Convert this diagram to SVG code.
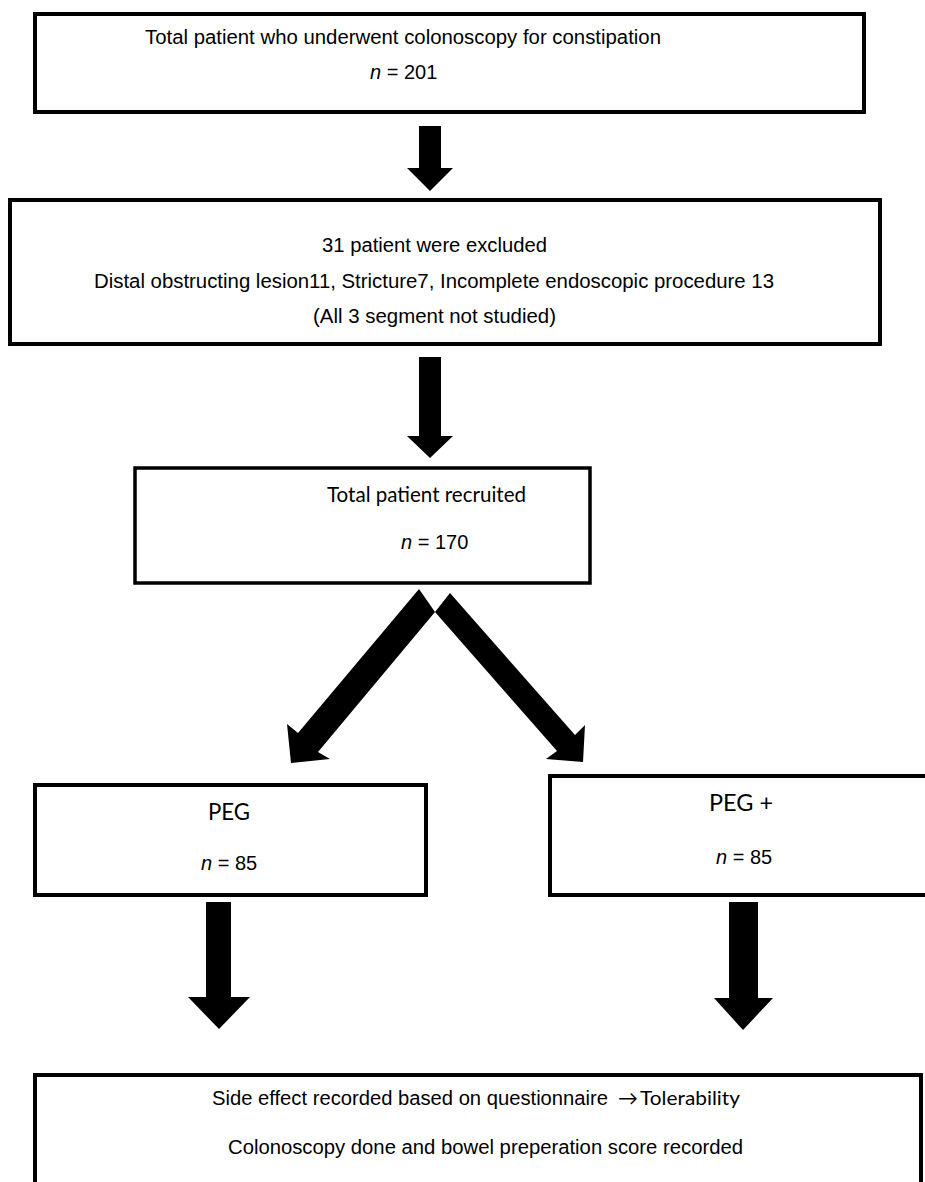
<svg xmlns="http://www.w3.org/2000/svg" width="925" height="1182" viewBox="0 0 925 1182">
<style>
.box{fill:#fff;stroke:#000;stroke-width:4}
.ar{font-family:"Liberation Sans",Arial,sans-serif;font-size:20px;fill:#000}
.cb{font-family:Lato,"Open Sans",sans-serif;fill:#000}
.it{font-style:italic}
.arrow{fill:#000;stroke:none}
</style>
<rect width="925" height="1182" fill="#fff"/>
<g id="node-total">
<rect class="box" x="35" y="14" width="829" height="98"/>
<text class="ar" x="145" y="44" textLength="516" lengthAdjust="spacingAndGlyphs">Total patient who underwent colonoscopy for constipation</text>
<text class="ar" x="370" y="79"><tspan class="it">n</tspan> = 201</text>
</g>
<g id="node-excluded">
<rect class="box" x="10" y="200" width="870" height="144"/>
<text class="ar" x="322" y="252" textLength="225" lengthAdjust="spacingAndGlyphs">31 patient were excluded</text>
<text class="ar" x="94" y="288" textLength="680" lengthAdjust="spacingAndGlyphs">Distal obstructing lesion11, Stricture7, Incomplete endoscopic procedure 13</text>
<text class="ar" x="313" y="323" textLength="243" lengthAdjust="spacingAndGlyphs">(All 3 segment not studied)</text>
</g>
<g id="node-recruited">
<rect class="box" x="135" y="468" width="455" height="115" style="stroke-width:3.5"/>
<text class="cb" x="327" y="502" font-size="21" textLength="199" lengthAdjust="spacingAndGlyphs">Total patient recruited</text>
<text class="ar" x="401" y="549"><tspan class="it">n</tspan> = 170</text>
</g>
<g id="node-peg">
<rect class="box" x="35" y="785" width="391" height="110"/>
<text class="cb" x="208" y="820" font-size="24" textLength="42" lengthAdjust="spacingAndGlyphs">PEG</text>
<text class="ar" x="201" y="870"><tspan class="it">n</tspan> = 85</text>
</g>
<g id="node-pegplus">
<rect class="box" x="550" y="776" width="380" height="119"/>
<text class="cb" x="709" y="811" font-size="24" textLength="64" lengthAdjust="spacingAndGlyphs">PEG +</text>
<text class="ar" x="716" y="864"><tspan class="it">n</tspan> = 85</text>
</g>
<g id="node-outcome">
<rect class="box" x="35" y="1075" width="886" height="130"/>
<text class="ar" x="212" y="1105" textLength="396" lengthAdjust="spacingAndGlyphs">Side effect recorded based on questionnaire </text>
<text class="cb" x="618" y="1105" font-size="20">→</text>
<text class="cb" x="640" y="1105" font-size="20" textLength="100" lengthAdjust="spacingAndGlyphs">Tolerability</text>
<text class="ar" x="228" y="1154" textLength="515" lengthAdjust="spacingAndGlyphs">Colonoscopy done and bowel preperation score recorded</text>
</g>
<g id="connectors">
<polygon class="arrow" points="419,126 441,126 441,168 453,168 430,191 407,168 419,168"/>
<polygon class="arrow" points="419,357 441,357 441,436 453,436 430,458 407,436 419,436"/>
<polygon class="arrow" points="419,589 435,612 318,752 330,759 291,763 287,724 298,733"/>
<polygon class="arrow" points="450,593 435,612 557,751 546,759 583,762 585,725 575,735"/>
<polygon class="arrow" points="206,902 231,902 231,997 250,997 219,1029 188,997 206,997"/>
<polygon class="arrow" points="729,902 758,902 758,998 773,998 743,1030 714,998 729,998"/>
</g>
</svg>
